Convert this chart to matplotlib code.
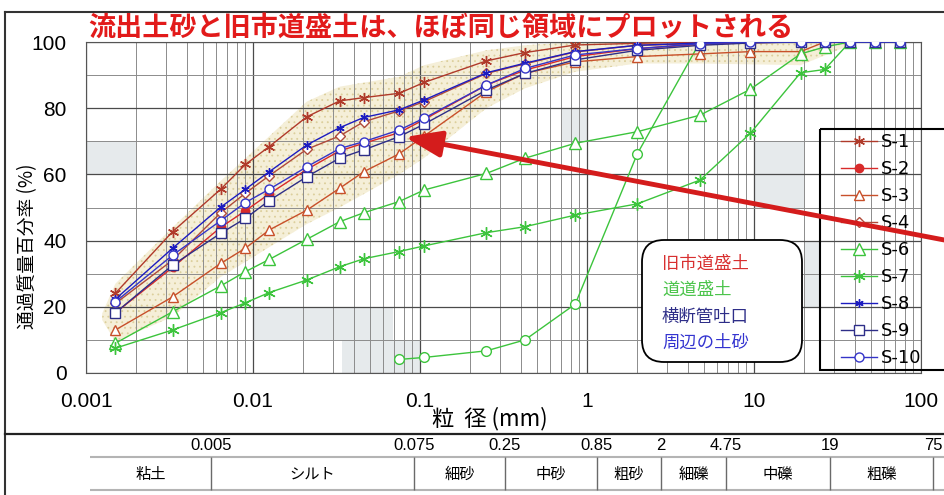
import numpy as np
import matplotlib
matplotlib.use('Agg')
import matplotlib.pyplot as plt
from matplotlib.patches import Rectangle, FancyBboxPatch, FancyArrowPatch
from matplotlib.ticker import LogLocator, NullFormatter, MultipleLocator

plt.rcParams['font.family'] = ['Liberation Sans', 'Noto Sans CJK JP', 'DejaVu Sans']
plt.rcParams['hatch.linewidth'] = 0.6
JP = ['Noto Sans CJK JP', 'DejaVu Sans']

# 粒径 (mm)
sieve = [0.0015, 0.0033, 0.0064, 0.009, 0.0125, 0.021, 0.033, 0.046, 0.075, 0.106,
         0.25, 0.425, 0.85, 2, 4.75, 9.5, 19, 26.5, 37.5, 53, 75]

# 通過質量百分率 (%)
s1 = [24.1, 42.7, 55.5, 63.0, 68.4, 77.4, 82.2, 83.2, 84.5, 87.8, 94.3, 96.8, 99.1, 99.6, 100, 100, 100, 100, 100, 100, 100]
s2 = [18.2, 31.9, 44.0, 49.0, 54.1, 61.5, 67.1, 69.4, 72.6, 76.6, 87.0, 91.5, 95.6, 98.0, 99.3, 99.8, 100, 100, 100, 100, 100]
s3 = [13.0, 23.0, 33.1, 37.7, 43.2, 49.2, 55.8, 60.8, 66.2, 71.6, 85.0, 90.5, 94.0, 95.6, 96.4, 97.1, 97.1, 100, 100, 100, 100]
s4 = [21.0, 34.1, 48.4, 54.3, 59.6, 67.6, 71.6, 75.9, 79.2, 82.0, 90.5, 93.4, 97.0, 99.0, 99.5, 100, 100, 100, 100, 100, 100]
s6 = [9.0, 18.5, 26.3, 30.6, 34.3, 40.4, 45.7, 48.4, 51.8, 55.3, 60.3, 64.9, 69.4, 72.9, 77.9, 85.7, 96.4, 98.5, 100, 100, 100]
s7 = [7.5, 13.0, 18.2, 21.2, 24.3, 28.1, 32.1, 34.5, 36.7, 38.4, 42.4, 44.2, 47.7, 51.1, 58.3, 72.4, 90.7, 91.7, 100, 100, 100]
s8 = [22.3, 37.7, 50.1, 55.5, 60.8, 68.9, 74.1, 77.2, 79.5, 82.5, 90.7, 93.6, 97.1, 99.0, 99.7, 100, 100, 100, 100, 100, 100]
s9 = [18.2, 32.6, 42.2, 46.7, 52.1, 59.3, 64.9, 67.4, 71.4, 75.2, 85.5, 90.5, 94.6, 97.5, 99.0, 99.7, 100, 100, 100, 100, 100]
s10 = [21.5, 35.6, 46.0, 51.5, 55.5, 62.3, 67.8, 69.9, 73.4, 77.0, 87.0, 92.0, 96.1, 98.0, 99.5, 100, 100, 100, 100, 100, 100]

# 凡例にない試料 (緑の丸)
s5_d = [0.075, 0.106, 0.25, 0.425, 0.85, 2, 4.75]
s5 = [4.1, 4.7, 6.7, 10.0, 20.8, 66.2, 100]

# 旧市道盛土・流出土砂の範囲
band_d = [0.00125, 0.0015, 0.0033, 0.0064, 0.0125, 0.021, 0.033, 0.075, 0.106, 0.25, 0.425, 0.85, 2, 4.75, 19, 37.5]
band_hi = [18, 27, 44, 58, 71.5, 82, 86.5, 89.5, 93, 97.5, 99, 100, 100, 100, 100, 100]
band_lo = [16, 9.5, 17, 29, 38, 45, 50, 60, 65, 80, 86, 91, 93.5, 93.5, 93, 99]

# 土質区分
bounds = [0.005, 0.075, 0.25, 0.85, 2, 4.75, 19, 75]
bound_labels = ['0.005', '0.075', '0.25', '0.85', '2', '4.75', '19', '75']
soil_classes = ['粘土', 'シルト', '細砂', '中砂', '粗砂', '細礫', '中礫', '粗礫']

xticks = [0.001, 0.01, 0.1, 1, 10, 100]
xtick_labels = ['0.001', '0.01', '0.1', '1', '10', '100']

# 背景の灰色セル (x0, x1, y0, y1)
shade_cells = [(0.001, 0.002, 60, 70), (0.01, 0.069, 10, 20), (0.034, 0.1, 0, 10),
               (0.7, 1.0, 70, 80), (10, 20, 50, 70), (20, 25, 20, 40)]

W, H = 945, 495
fig = plt.figure(figsize=(W / 100, H / 100), dpi=100)
fig.patch.set_facecolor('white')

ax = fig.add_axes([86 / W, (H - 373) / H, (921 - 86) / W, (373 - 42) / H])
ax.set_xscale('log')
ax.set_xlim(0.001, 100)
ax.set_ylim(0, 100)

for x0, x1, y0, y1 in shade_cells:
    ax.add_patch(Rectangle((x0, y0), x1 - x0, y1 - y0, facecolor='#e6eaec', edgecolor='none', zorder=0.5))

ax.fill_between(band_d, band_lo, band_hi, facecolor='#f5efd8', edgecolor='#dccf9c',
                hatch='...', linewidth=0, zorder=1)

ast = (6, 2, 0)
series = [
    ('S-1', s1, '#b03a2a', dict(marker=ast, ms=8, mfc='none')),
    ('S-2', s2, '#d82a2a', dict(marker='o', ms=6, mfc='#d82a2a')),
    ('S-3', s3, '#c8502a', dict(marker='^', ms=7, mfc='white')),
    ('S-4', s4, '#b04a3a', dict(marker='D', ms=5, mfc='white')),
    ('S-6', s6, '#3cc43c', dict(marker='^', ms=8, mfc='white')),
    ('S-7', s7, '#3cc43c', dict(marker=ast, ms=9, mfc='none')),
    ('S-8', s8, '#1c1cc0', dict(marker=ast, ms=6, mfc='none')),
    ('S-9', s9, '#2e2e88', dict(marker='s', ms=6.5, mfc='white')),
    ('S-10', s10, '#3434c8', dict(marker='o', ms=6.5, mfc='white')),
]
ax.plot(s5_d, s5, color='#3cc43c', lw=1, marker='o', ms=7, mfc='white', mec='#3cc43c', zorder=3)
handles = []
for name, vals, col, mk in series:
    ln, = ax.plot(sieve, vals, color=col, lw=1, mec=col, mew=1, label=name, zorder=3, **mk)
    handles.append(ln)

ax.set_xticks(xticks)
ax.set_xticklabels(xtick_labels)
ax.xaxis.set_minor_locator(LogLocator(base=10, subs=np.arange(2, 10), numticks=100))
ax.xaxis.set_minor_formatter(NullFormatter())
ax.yaxis.set_major_locator(MultipleLocator(20))
ax.yaxis.set_minor_locator(MultipleLocator(10))
ax.grid(which='major', color='#4a4a4a', lw=0.9, zorder=2)
ax.grid(which='minor', color='#8c8c8c', lw=0.7, zorder=2)
ax.tick_params(which='both', length=0)
ax.tick_params(axis='both', labelsize=15, pad=14)
for sp in ax.spines.values():
    sp.set_color('#555555')

# 凡例
leg = fig.legend(handles=handles, loc='upper left', bbox_to_anchor=(841 / W, 1 - 133 / H),
                 frameon=False, borderaxespad=0, borderpad=0, handlelength=2.0,
                 handletextpad=0.2, labelspacing=0.5, prop={'family': 'DejaVu Sans', 'size': 13})

# 重ね描き用 (ピクセル座標)
ov = fig.add_axes([0, 0, 1, 1], zorder=10)
ov.set_xlim(0, W)
ov.set_ylim(H, 0)
ov.axis('off')

ov.add_patch(Rectangle((820, 129), 140, 241, facecolor='none', edgecolor='black', lw=1.5))

ov.plot([5, W], [11.5, 11.5], color='#333333', lw=1.5)
ov.plot([5, 5], [11.5, H], color='#333333', lw=1.5)
ov.plot([5, W], [434, 434], color='#222222', lw=1.6)

ov.text(441, 28, '流出土砂と旧市道盛土は、ほぼ同じ領域にプロットされる', family=JP,
        fontsize=19.5, fontweight='bold', color='#e21a1a', ha='center', va='center')

ov.text(28, 246, '通過質量百分率 (%)', family=JP, fontsize=13.5, rotation=90,
        ha='center', va='center')
ov.text(490, 419, '粒  径 (mm)', family=JP, fontsize=16, ha='center', va='center')

ov.add_patch(FancyBboxPatch((642, 240), 160, 122, boxstyle='round,pad=0,rounding_size=22',
                            facecolor='white', edgecolor='black', lw=1.3))
box_lines = [('旧市道盛土', '#d83030'), ('道道盛土', '#4cc44c'),
             ('横断管吐口', '#2e2e88'), ('周辺の土砂', '#3434d0')]
for i, (t, c) in enumerate(box_lines):
    ov.text(662, 264 + i * 26.3, t, family=JP, fontsize=12.5, color=c, ha='left', va='center')

ov.add_patch(FancyArrowPatch((960, 243), (405, 137), arrowstyle='-|>,head_length=1.1,head_width=0.4',
                             mutation_scale=20, color='#d41c1c', lw=3.5, shrinkA=0, shrinkB=0))

# 土質区分表
tb = fig.add_axes([90.2 / W, 0, 864.5 / W, 59 / H], zorder=5)
tb.set_xscale('log')
tb.set_xlim(0.001, 100)
tb.set_ylim(H, 436)
tb.axis('off')
tb.hlines([457, 490], 0.00096, 100, color='#b4b4b4', lw=1.5)
tb.vlines(bounds, 457, 490, color='#6a6a6a', lw=1)
for b, lab in zip(bounds, bound_labels):
    tb.text(b, 446, lab, fontsize=12, ha='center', va='center')
edges = [0.001] + bounds
for i, name in enumerate(soil_classes):
    xc = np.sqrt(edges[i] * edges[i + 1])
    tb.text(xc, 474, name, family=JP, fontsize=11, ha='center', va='center')

fig.savefig('out.png', dpi=100, facecolor='white')
